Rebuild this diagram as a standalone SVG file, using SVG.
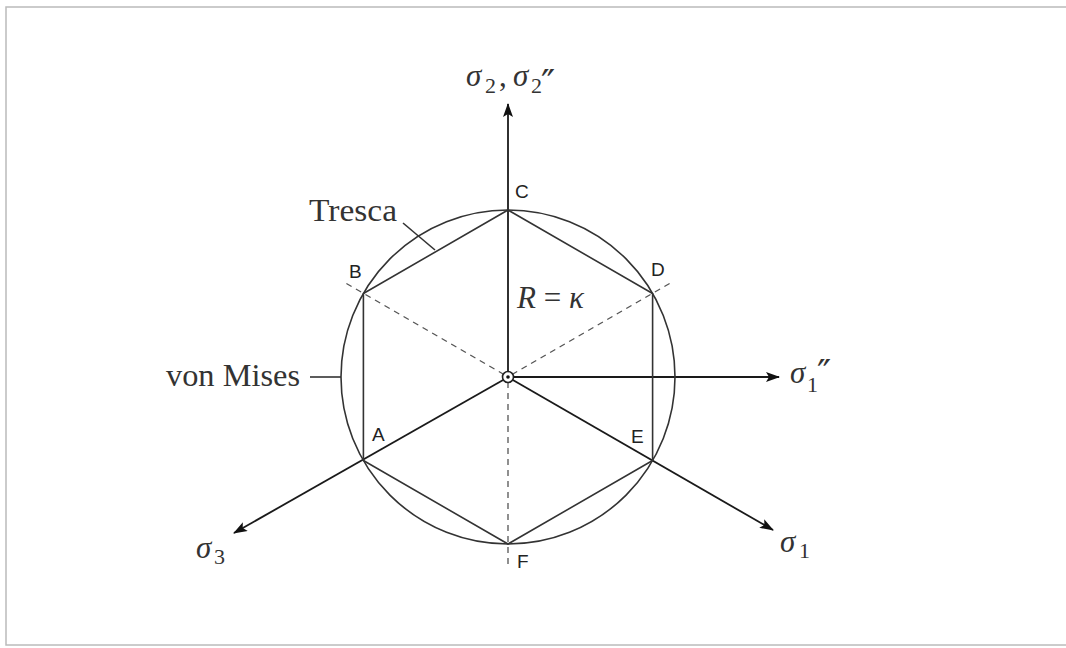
<svg xmlns="http://www.w3.org/2000/svg" width="1066" height="648" viewBox="0 0 1066 648">
<defs>
<style>
.ax{stroke:#1a1a1a;stroke-width:1.8;fill:none}
.ln{stroke:#333;stroke-width:1.6;fill:none}
.ds{stroke:#555;stroke-width:1.3;fill:none;stroke-dasharray:6 5}
.lab{font-family:"Liberation Sans",Arial,sans-serif;font-size:19px;fill:#222}
.mt{font-family:"Liberation Serif","Times New Roman",serif;font-size:31px;fill:#333}
.sg{font-style:italic}
.sb{font-size:22px;font-style:normal}
.pr{font-family:"DejaVu Sans",sans-serif;font-size:38px;font-style:normal}
</style>
<marker id="ah" markerWidth="14" markerHeight="10" refX="13" refY="5" orient="auto" markerUnits="userSpaceOnUse">
<path d="M0,0 L14,5 L0,10 L3,5 Z" fill="#111"/>
</marker>
</defs>
<rect x="0" y="0" width="1066" height="648" fill="#fff"/>
<rect x="6" y="7" width="1062" height="638" fill="#fff" stroke="#bbb" stroke-width="1.5"/>
<g id="connectors">
<line class="ax" x1="508" y1="377" x2="508" y2="104" marker-end="url(#ah)"/>
<line class="ax" x1="513" y1="377" x2="779" y2="377" marker-end="url(#ah)"/>
<line class="ax" x1="512" y1="379.5" x2="773" y2="530" marker-end="url(#ah)"/>
<line class="ax" x1="504" y1="379.5" x2="234" y2="533" marker-end="url(#ah)"/>
<line class="ds" x1="504" y1="374.5" x2="343" y2="281.5"/>
<line class="ds" x1="512" y1="374.5" x2="673" y2="281.5"/>
<line class="ds" x1="508" y1="382" x2="508" y2="566"/>
<line class="ln" x1="403" y1="223" x2="435" y2="250"/>
<line class="ln" x1="310" y1="377" x2="341" y2="377"/>
</g>
<g id="vonmises"><circle class="ln" cx="508" cy="377" r="167"/></g>
<g id="tresca"><polygon class="ln" points="508,210 652.6,293.5 652.6,460.5 508,544 363.4,460.5 363.4,293.5"/></g>
<g id="origin"><circle cx="508" cy="377" r="5.5" fill="#fff" stroke="#222" stroke-width="1.6"/><circle cx="508" cy="377" r="1.8" fill="#111"/></g>
<g id="labels">
<text class="lab" x="515" y="198">C</text>
<text class="lab" x="651" y="276">D</text>
<text class="lab" x="349" y="278">B</text>
<text class="lab" x="372" y="441">A</text>
<text class="lab" x="631" y="443">E</text>
<text class="lab" x="517" y="568">F</text>
<text class="mt" x="309" y="221" textLength="88" lengthAdjust="spacingAndGlyphs">Tresca</text>
<text class="mt" x="166" y="386" textLength="134" lengthAdjust="spacingAndGlyphs">von Mises</text>
<text class="mt" x="517" y="308"><tspan class="sg">R</tspan> = <tspan class="sg">κ</tspan></text>
</g>
<g id="axis-labels">
<text class="mt"><tspan class="sg" x="466" y="86">σ</tspan><tspan class="sb" x="485" y="93">2</tspan><tspan x="499" y="86">,</tspan><tspan class="sg" x="513" y="86">σ</tspan><tspan class="sb" x="531" y="93">2</tspan><tspan class="pr" x="541" y="96">″</tspan></text>
<text class="mt"><tspan class="sg" x="790" y="383">σ</tspan><tspan class="sb" x="807" y="392">1</tspan><tspan class="pr" x="817" y="386">″</tspan></text>
<text class="mt"><tspan class="sg" x="196" y="558">σ</tspan><tspan class="sb" x="214" y="564">3</tspan></text>
<text class="mt"><tspan class="sg" x="780" y="552">σ</tspan><tspan class="sb" x="799" y="558">1</tspan></text>
</g>
</svg>
